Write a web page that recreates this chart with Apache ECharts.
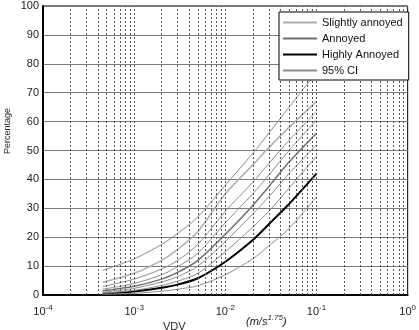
<!DOCTYPE html>
<html>
<head>
<meta charset="utf-8">
<script src="https://cdn.jsdelivr.net/npm/echarts@6/dist/echarts.min.js"></script>
<style>
	html, body { margin: 0; padding: 0; background: #fff; }
	#chart { width: 419px; height: 330px; }
</style>
</head>
<body>
<div id="chart"></div>
<script>
// VDV values (m/s^1.75) where the curves were read
var vdv = [0.00045, 0.001, 0.002, 0.003, 0.005, 0.01, 0.02, 0.03, 0.05, 0.1];

// percentages
var slightly = [4.4, 7.5, 12, 15.8, 22, 35, 45, 51, 58, 67];
var slightlyHi = [8.5, 12.5, 17.5, 21.3, 27, 38, 49, 56, 65, 77];
var slightlyLo = [2.9, 5.5, 9, 12, 17.5, 29, 39, 45.5, 53.5, 63.5];
var annoyed = [1.4, 3, 5.5, 7.8, 12, 21, 31, 37.5, 46, 56];
var annoyedHi = [2, 4, 7, 9.8, 14.5, 25, 35, 41.5, 50, 60.5];
var annoyedLo = [0.9, 2.3, 4.5, 6.4, 10, 18.5, 28, 34, 42, 52];
var highly = [0.4, 1.2, 2.5, 3.6, 5.8, 11.5, 19, 24.5, 31.5, 42];
var highlyHi = [0.6, 1.6, 3.3, 4.8, 7.5, 15, 23.5, 29, 37, 48];
var highlyLo = [0.2, 0.6, 1.3, 2, 3.2, 7, 12.5, 17, 23, 34];

// vertical grid lines (log decades and their 2..9 steps)
var vGrid = [];
[0.0001, 0.001, 0.01, 0.1].forEach(function (d) {
	for (var k = 1; k <= 9; k++) vGrid.push(d * k);
});

function pairs(ys) {
	return ys.map(function (y, i) {
		return [vdv[i], y];
	});
}

function line(name, ys, color, width) {
	return {
		name: name,
		type: 'line',
		data: pairs(ys),
		smooth: 0.3,
		symbol: 'none',
		silent: true,
		lineStyle: { color: color, width: width },
		itemStyle: { color: color }
	};
}

var ciColor = '#8c8c8c';
var series = [
	line('Slightly annoyed', slightly, '#b0b0b0', 1.5),
	line('Annoyed', annoyed, '#707070', 1.5),
	line('Highly Annoyed', highly, '#000000', 2),
	line('95% CI', slightlyHi, ciColor, 1),
	line('95% CI', slightlyLo, ciColor, 1),
	line('95% CI', annoyedHi, ciColor, 1),
	line('95% CI', annoyedLo, ciColor, 1),
	line('95% CI', highlyHi, ciColor, 1),
	line('95% CI', highlyLo, ciColor, 1)
];
series[0].markLine = {
	silent: true,
	symbol: 'none',
	precision: 10,
	label: { show: false },
	lineStyle: { color: '#555', type: [2, 2], width: 1 },
	data: vGrid.slice(1).map(function (v) {
		return { xAxis: v };
	})
};

var legendIcon = 'rect';

var chart = echarts.init(document.getElementById('chart'));
chart.setOption({
	animation: false,
	textStyle: { fontFamily: 'Liberation Sans' },
	grid: {
		left: 43,
		right: 6,
		top: 6,
		bottom: 35,
		show: true,
		borderColor: '#000',
		borderWidth: 1
	},
	legend: {
		z: 10,
		data: [
			{ name: 'Slightly annoyed', icon: legendIcon },
			{ name: 'Annoyed', icon: legendIcon },
			{ name: 'Highly Annoyed', icon: legendIcon },
			{ name: '95% CI', icon: legendIcon }
		],
		orient: 'vertical',
		left: 279,
		top: 12,
		itemWidth: 34,
		itemHeight: 2,
		itemGap: 3,
		padding: [4, 6, 3, 4],
		backgroundColor: '#fff',
		borderColor: '#000',
		borderWidth: 1,
		textStyle: { fontSize: 11, color: '#111', fontFamily: 'Liberation Sans', lineHeight: 13 }
	},
	xAxis: {
		type: 'log',
		logBase: 10,
		min: 0.0001,
		max: 1,
		axisLine: { lineStyle: { color: '#000', width: 2 } },
		axisTick: { show: false },
		splitLine: { show: false },
		axisLabel: {
			margin: 9,
			color: '#222',
			formatter: function (v) {
				var e = Math.round(Math.log10(v));
				return '{b|10}{e|' + e + '}';
			},
			rich: {
				b: { fontSize: 11, color: '#222', fontFamily: 'Liberation Sans' },
				e: { fontSize: 8, color: '#222', padding: [0, 0, 8, 0], fontFamily: 'Liberation Sans' }
			}
		}
	},
	yAxis: {
		type: 'value',
		min: 0,
		max: 100,
		interval: 10,
		axisLine: { show: true, lineStyle: { color: '#000', width: 2 } },
		axisTick: { show: false },
		axisLabel: { fontSize: 11, color: '#222', margin: 4 },
		splitLine: { lineStyle: { color: '#7a7a7a', width: 1 } }
	},
	graphic: [
		{
			type: 'text',
			left: 3,
			top: 108,
			rotation: Math.PI / 2,
			style: { text: 'Percentage', fontSize: 9, fill: '#222', fontFamily: 'Liberation Sans' }
		},
		{
			type: 'text',
			left: 163,
			top: 321,
			style: { text: 'VDV', fontSize: 11, fill: '#222', fontFamily: 'Liberation Sans' }
		},
		{
			type: 'text',
			left: 246,
			top: 314,
			style: {
				text: '{i|(m/s}{s|1.75}{i|)}',
				rich: {
					i: { fontSize: 11, fontStyle: 'italic', fill: '#222', fontFamily: 'Liberation Sans' },
					s: { fontSize: 8, fontStyle: 'italic', fill: '#222', padding: [0, 0, 8, 0], fontFamily: 'Liberation Sans' }
				}
			}
		}
	],
	series: series
});
</script>
</body>
</html>
